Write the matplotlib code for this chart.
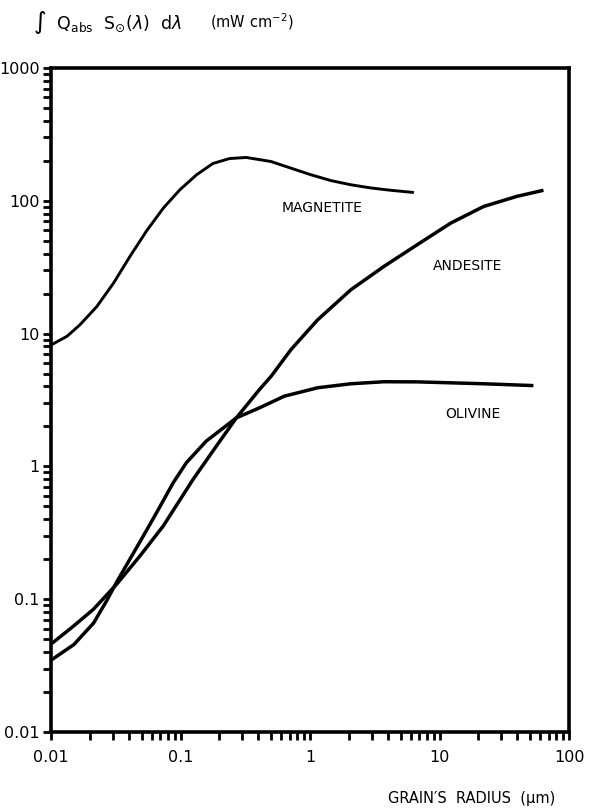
import matplotlib
matplotlib.use('Agg')
import matplotlib.pyplot as plt
from matplotlib.ticker import LogLocator, FixedLocator, FixedFormatter, NullFormatter

# curves (grain radius in um, absorbed power in mW cm^-2)
magnetite_r = [0.01, 0.0133, 0.0168, 0.0226, 0.0304, 0.0407, 0.0548, 0.0736,
               0.0988, 0.133, 0.178, 0.239, 0.322, 0.501, 0.714, 1.018, 1.45,
               2.07, 2.94, 4.20, 6.34]
magnetite_p = [8.2, 9.55, 11.7, 16.0, 24.0, 38.1, 59.5, 88.0,
               121, 157, 191, 208, 212, 197.5, 176, 157, 142,
               132, 125, 120, 115.5]

andesite_r = [0.01, 0.015, 0.0213, 0.0322, 0.0487, 0.0736, 0.125, 0.189, 0.270,
              0.407, 0.501, 0.714, 1.146, 2.07, 3.73, 6.73, 12.2, 21.9, 39.6, 63.5]
andesite_p = [0.0459, 0.063, 0.0841, 0.130, 0.212, 0.356, 0.798, 1.42, 2.32,
              3.79, 4.77, 7.59, 12.7, 21.4, 32.1, 46.7, 67.9, 90.6, 108, 120]

olivine_r = [0.01, 0.015, 0.0213, 0.027, 0.0322, 0.0516, 0.0654, 0.0879, 0.111,
             0.158, 0.270, 0.407, 0.634, 1.146, 2.07, 3.73, 6.73, 12.2, 21.9, 53.1]
olivine_p = [0.0347, 0.0455, 0.066, 0.098, 0.135, 0.299, 0.449, 0.754, 1.066,
             1.55, 2.32, 2.76, 3.38, 3.91, 4.19, 4.34, 4.33, 4.26, 4.19, 4.06]

x_ticks = [0.01, 0.1, 1, 10, 100]
x_labels = ['0.01', '0.1', '1', '10', '100']
y_ticks = [0.01, 0.1, 1, 10, 100, 1000]
y_labels = ['0.01', '0.1', '1', '10', '100', '1000']

plt.rcParams['font.family'] = ['DejaVu Sans']

fig = plt.figure(figsize=(5.91, 8.11), dpi=100)
# axes box: x 51..569 px, y 68..732 px
ax = fig.add_axes([51 / 591, 1 - 732 / 811, 518 / 591, 664 / 811])

line_kw = dict(c='black', solid_capstyle='butt', solid_joinstyle='round')
ax.plot(magnetite_r, magnetite_p, lw=2.1, **line_kw)
ax.plot(andesite_r, andesite_p, lw=2.5, **line_kw)
ax.plot(olivine_r, olivine_p, lw=2.5, **line_kw)

ax.set_xscale('log')
ax.set_yscale('log')
ax.set_xlim(0.01, 100)
ax.set_ylim(0.01, 1000)

ax.xaxis.set_major_locator(FixedLocator(x_ticks))
ax.xaxis.set_major_formatter(FixedFormatter(x_labels))
ax.yaxis.set_major_locator(FixedLocator(y_ticks))
ax.yaxis.set_major_formatter(FixedFormatter(y_labels))
ax.xaxis.set_minor_locator(LogLocator(base=10, subs=range(2, 10)))
ax.yaxis.set_minor_locator(LogLocator(base=10, subs=range(2, 10)))
ax.xaxis.set_minor_formatter(NullFormatter())
ax.yaxis.set_minor_formatter(NullFormatter())

ax.tick_params(which='both', direction='out', length=6, width=2, labelsize=11.5)
ax.tick_params(axis='x', which='both', top=False, pad=7)
ax.tick_params(axis='y', which='both', right=False, pad=2)

for s in ax.spines.values():
    s.set_linewidth(2.6)

ax.text(0.608, 88.3, 'MAGNETITE', fontsize=10, ha='left', va='center')
ax.text(8.9, 32.3, 'ANDESITE', fontsize=10, ha='left', va='center')
ax.text(11.0, 2.48, 'OLIVINE', fontsize=10, ha='left', va='center')

fig.text(33 / 591, 1 - 22 / 811,
         r'$\int$  Q$_{\rm abs}$  S$_{\odot}$($\lambda$)  d$\lambda$',
         fontsize=12.5, ha='left', va='center')
fig.text(210 / 591, 1 - 22 / 811, r'(mW cm$^{-2}$)',
         fontsize=10.5, ha='left', va='center')
fig.text(555 / 591, 1 - 798 / 811, 'GRAIN\u2032S  RADIUS  (\u03bcm)',
         fontsize=10.5, ha='right', va='center')

plt.savefig('out.png', dpi=100)
